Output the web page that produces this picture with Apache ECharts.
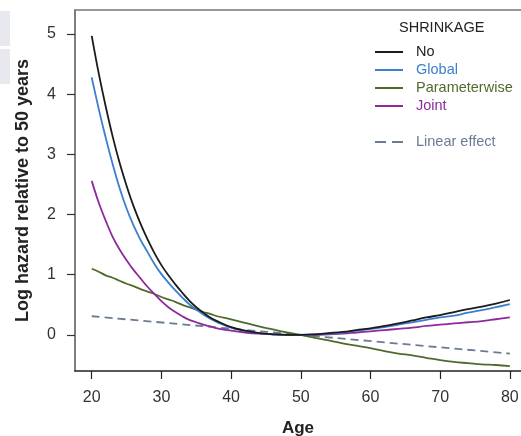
<!DOCTYPE html>
<html>
<head>
<meta charset="utf-8">
<script src="https://cdn.jsdelivr.net/npm/echarts@6/dist/echarts.min.js"></script>
<style>
  html, body { margin: 0; padding: 0; background: #fff; }
  #chart { width: 521px; height: 436px; }
</style>
</head>
<body>
<div id="chart"></div>
<script>
// ages used by the smooth curves (1-year steps where the curves fall steeply)
const ages = [20, 21, 22, 23, 24, 25, 26, 27, 28, 29, 30, 31, 32, 33, 34, 35, 36, 37, 38,
  40, 42, 44, 46, 48, 50, 52, 54, 56, 58, 60, 62, 64, 66, 68, 70, 72, 74, 76, 78, 80];

const noShrink = [4.97, 4.35, 3.80, 3.30, 2.86, 2.48, 2.14, 1.85, 1.59, 1.36, 1.16, 0.99, 0.84, 0.70, 0.57, 0.46, 0.37, 0.29, 0.23,
  0.13, 0.07, 0.03, 0.01, 0.00, 0.00, 0.01, 0.03, 0.05, 0.08, 0.11, 0.15, 0.19, 0.24, 0.29, 0.33, 0.38, 0.43, 0.47, 0.52, 0.58];
const globalShrink = [4.28, 3.76, 3.28, 2.84, 2.44, 2.10, 1.82, 1.58, 1.38, 1.18, 1.01, 0.87, 0.74, 0.62, 0.51, 0.42, 0.34, 0.27, 0.21,
  0.12, 0.07, 0.03, 0.01, 0.00, 0.00, 0.01, 0.02, 0.04, 0.07, 0.10, 0.13, 0.17, 0.21, 0.25, 0.29, 0.32, 0.37, 0.41, 0.46, 0.51];
const paramShrink = [1.10, 1.05, 0.99, 0.95, 0.90, 0.85, 0.81, 0.76, 0.72, 0.68, 0.63, 0.59, 0.55, 0.50, 0.46, 0.42, 0.38, 0.35, 0.31,
  0.26, 0.20, 0.14, 0.09, 0.04, 0.00, -0.05, -0.09, -0.14, -0.18, -0.22, -0.27, -0.31, -0.34, -0.38, -0.42, -0.45, -0.47, -0.49, -0.50, -0.52];
const jointShrink = [2.56, 2.20, 1.90, 1.63, 1.42, 1.24, 1.08, 0.94, 0.80, 0.68, 0.56, 0.46, 0.38, 0.31, 0.25, 0.21, 0.17, 0.14, 0.11,
  0.07, 0.04, 0.02, 0.01, 0.00, 0.00, 0.00, 0.01, 0.02, 0.04, 0.06, 0.08, 0.10, 0.12, 0.15, 0.17, 0.19, 0.21, 0.23, 0.26, 0.29];

// linear effect is a straight line
const linearAges = [20, 50, 80];
const linearEffect = [0.31, 0.00, -0.31];

const xTicks = [20, 30, 40, 50, 60, 70, 80];
const yTicks = [0, 1, 2, 3, 4, 5];

const colors = {
  no: "#1b1b1b",
  global: "#3c7fcc",
  param: "#4f6b2c",
  joint: "#8e2a9c",
  linear: "#6b7b95",
};

const font = "'Liberation Sans', Arial, sans-serif";

function pairs(xs, ys) {
  return xs.map((x, i) => [x, ys[i]]);
}

function lineSeries(name, xs, ys, col, dashed) {
  return {
    name,
    type: "line",
    data: pairs(xs, ys),
    showSymbol: false,
    smooth: 0.4,
    lineStyle: { color: col, width: 1.8, type: dashed ? [8, 5] : "solid" },
    itemStyle: { color: col },
    emphasis: { disabled: true },
    animation: false,
  };
}

const chart = echarts.init(document.getElementById("chart"), null, { renderer: "canvas" });

chart.setOption({
  backgroundColor: "#fff",
  animation: false,
  textStyle: { fontFamily: font },
  title: {
    text: "SHRINKAGE",
    left: 399,
    top: 20,
    padding: 0,
    textStyle: { fontSize: 14.5, fontWeight: "normal", color: "#222", fontFamily: font },
  },
  legend: [
    {
      orient: "vertical",
      left: 375,
      top: 43,
      padding: 0,
      itemGap: 0,
      itemWidth: 28,
      itemHeight: 2,
      icon: "rect",
      textStyle: { fontSize: 14.5, lineHeight: 18, fontFamily: font, padding: [0, 0, 0, 8] },
      data: [
        { name: "No", textStyle: { color: colors.no } },
        { name: "Global", textStyle: { color: colors.global } },
        { name: "Parameterwise", textStyle: { color: colors.param } },
        { name: "Joint", textStyle: { color: colors.joint } },
      ],
      selectedMode: false,
    },
    {
      orient: "vertical",
      left: 375,
      top: 133,
      padding: 0,
      itemWidth: 28,
      itemHeight: 2,
      icon: "path://M0,0H11V2H0Z M17,0H28V2H17Z",
      textStyle: { fontSize: 14.5, lineHeight: 18, fontFamily: font, padding: [0, 0, 0, 8] },
      data: [{ name: "Linear effect", textStyle: { color: colors.linear } }],
      selectedMode: false,
    },
  ],
  grid: {
    left: 75,
    top: 10,
    right: 0,
    bottom: 65,
    containLabel: false,
    outerBoundsMode: "none",
  },
  xAxis: [
    {
      type: "value",
      min: 17.6,
      max: 81.6,
      name: "Age",
      nameLocation: "middle",
      nameGap: 49,
      nameTextStyle: { fontSize: 17, fontWeight: "bold", color: "#222", fontFamily: font },
      axisLine: { show: true, onZero: false, lineStyle: { color: "#222", width: 1.5 } },
      axisTick: { show: true, length: 8, customValues: xTicks, lineStyle: { color: "#222", width: 1.2 } },
      axisLabel: { customValues: xTicks, fontSize: 16, color: "#333", margin: 19, fontFamily: font },
      splitLine: { show: false },
    },
    {
      // top frame line only
      type: "value",
      position: "top",
      min: 17.6,
      max: 81.6,
      axisLine: { show: true, onZero: false, lineStyle: { color: "#777", width: 1.5 } },
      axisTick: { show: false },
      axisLabel: { show: false },
      splitLine: { show: false },
    },
  ],
  yAxis: {
    type: "value",
    min: -0.6,
    max: 5.4,
    name: "Log hazard relative to 50 years",
    nameLocation: "middle",
    nameGap: 43,
    nameRotate: 90,
    nameTextStyle: { fontSize: 18, fontWeight: "bold", color: "#222", fontFamily: font },
    axisLine: { show: true, onZero: false, lineStyle: { color: "#555", width: 1.5 } },
    axisTick: { show: true, length: 8, customValues: yTicks, lineStyle: { color: "#333", width: 1.2 } },
    axisLabel: { customValues: yTicks, fontSize: 16, color: "#333", margin: 19, fontFamily: font },
    splitLine: { show: false },
  },
  graphic: [
    { type: "rect", left: 0, top: 11, shape: { width: 10, height: 35 }, style: { fill: "#e8e8ef" }, silent: true },
    { type: "rect", left: 0, top: 49, shape: { width: 10, height: 35 }, style: { fill: "#e8e8ef" }, silent: true },
  ],
  series: [
    lineSeries("Linear effect", linearAges, linearEffect, colors.linear, true),
    lineSeries("Parameterwise", ages, paramShrink, colors.param),
    lineSeries("Joint", ages, jointShrink, colors.joint),
    lineSeries("Global", ages, globalShrink, colors.global),
    lineSeries("No", ages, noShrink, colors.no),
  ],
});
</script>
</body>
</html>
